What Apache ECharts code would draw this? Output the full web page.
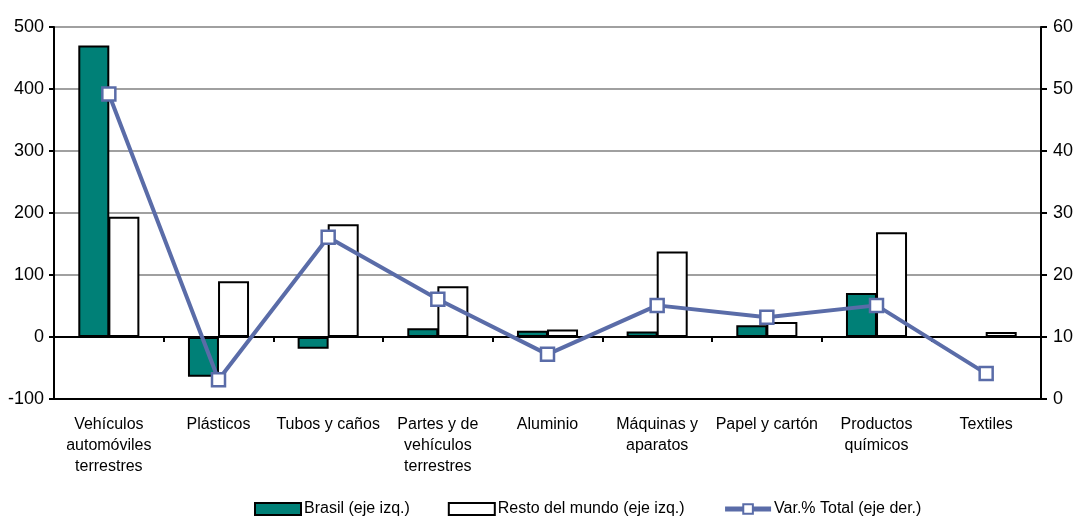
<!DOCTYPE html>
<html>
<head>
<meta charset="utf-8">
<script src="https://cdn.jsdelivr.net/npm/echarts@6/dist/echarts.min.js"></script>
<style>
html,body{margin:0;padding:0;background:#fff;}
#c{width:1077px;height:523px;}
</style>
</head>
<body>
<div id="c"></div>
<script>
const categories = ["Vehículos\nautomóviles\nterrestres","Plásticos","Tubos y caños","Partes y de\nvehículos\nterrestres","Aluminio","Máquinas y\naparatos","Papel y cartón","Productos\nquímicos","Textiles"];
const brasil = [470, -64, -19, 14, 10, 9, 19, 71, 0];
const restoMundo = [194, 90, 182, 82, 12, 138, 24, 169, 8];
const varTotal = [49.2, 3.1, 26.1, 16.1, 7.2, 15.1, 13.2, 15.1, 4.1];
const leftTicks = {min: -100, max: 500, interval: 100};
const rightTicks = {min: 0, max: 60, interval: 10};

const FONT = 'Liberation Sans, Arial, sans-serif';
const LINE_COLOR = '#5a6ca8';
const chart = echarts.init(document.getElementById('c'));
chart.setOption({
  animation: false,
  backgroundColor: '#fff',
  textStyle: {fontFamily: FONT, color: '#000'},
  grid: {left: 54, right: 36, top: 27, bottom: 124, containLabel: false},
  legend: {
    left: 249, bottom: 1,
    itemWidth: 46, itemHeight: 12, itemGap: 38,
    textStyle: {fontFamily: FONT, fontSize: 16, color: '#000', padding: [0,0,0,-2]},
    data: [
      {name: 'Brasil (eje izq.)', icon: 'rect'},
      {name: 'Resto del mundo (eje izq.)', icon: 'rect'},
      {name: 'Var.% Total (eje der.)', lineStyle: {width: 5, color: LINE_COLOR}}
    ]
  },
  xAxis: [
    {
      type: 'category', data: categories, position: 'bottom',
      axisLine: {onZero: true, onZeroAxisIndex: 0, lineStyle: {color: '#000', width: 2}},
      axisTick: {show: true, length: 5, lineStyle: {color: '#000', width: 2}},
      axisLabel: {show: false},
      splitLine: {show: false}
    },
    {
      type: 'category', data: categories, position: 'bottom',
      axisLine: {onZero: false, lineStyle: {color: '#000', width: 2}},
      axisTick: {show: false},
      axisLabel: {show: true, interval: 0, margin: 15, fontSize: 16, lineHeight: 21, color: '#000', fontFamily: FONT, verticalAlign: 'top'},
      splitLine: {show: false}
    }
  ],
  yAxis: [
    {
      type: 'value', min: leftTicks.min, max: leftTicks.max, interval: leftTicks.interval,
      axisLine: {show: true, lineStyle: {color: '#000', width: 2}},
      axisTick: {show: true, length: 5, lineStyle: {color: '#000', width: 2}},
      axisLabel: {fontSize: 18, color: '#000', margin: 10, fontFamily: FONT},
      splitLine: {show: true, lineStyle: {color: '#808080', width: 1.5}}
    },
    {
      type: 'value', min: rightTicks.min, max: rightTicks.max, interval: rightTicks.interval,
      position: 'right',
      axisLine: {show: true, lineStyle: {color: '#000', width: 2}},
      axisTick: {show: true, length: 6, lineStyle: {color: '#000', width: 2}},
      axisLabel: {fontSize: 18, color: '#000', margin: 12, fontFamily: FONT},
      splitLine: {show: false}
    }
  ],
  series: [
    {
      name: 'Brasil (eje izq.)', type: 'bar', data: brasil, xAxisIndex: 0, yAxisIndex: 0,
      barWidth: 31, barGap: '-3%',
      itemStyle: {color: '#008077', borderColor: '#000', borderWidth: 2}
    },
    {
      name: 'Resto del mundo (eje izq.)', type: 'bar', data: restoMundo, xAxisIndex: 0, yAxisIndex: 0,
      barWidth: 31, barGap: '-3%',
      itemStyle: {color: '#fff', borderColor: '#000', borderWidth: 2}
    },
    {
      name: 'Var.% Total (eje der.)', type: 'line', data: varTotal, xAxisIndex: 0, yAxisIndex: 1,
      symbol: 'rect', symbolSize: 13, z: 5,
      lineStyle: {color: LINE_COLOR, width: 4},
      itemStyle: {color: '#fff', borderColor: LINE_COLOR, borderWidth: 2.5}
    }
  ]
});
</script>
</body>
</html>
